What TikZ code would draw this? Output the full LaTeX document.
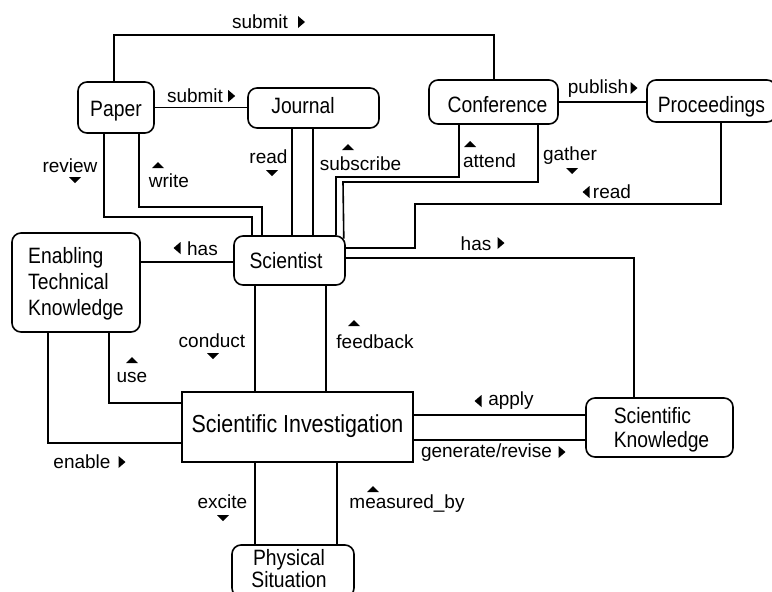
\documentclass[tikz,border=0pt]{standalone}
\usepackage{fontspec}
\setmainfont{Liberation Sans}
\usepackage{graphicx}
\newcommand{\ntext}[3][@{}c@{}]{\scalebox{1}[1.15]{\fontsize{19.3}{#2}\selectfont\begin{tabular}[t]{#1}#3\end{tabular}}}
\tikzset{
  box/.style={draw, line width=1.6pt, rounded corners=9pt, inner sep=0pt},
  sbox/.style={draw, line width=1.6pt, inner sep=0pt},
  lab/.style={font=\fontsize{19}{22}\selectfont, inner sep=0pt, anchor=base},
  conn/.style={line width=1.6pt},
  triU/.pic={\fill (-6,3) -- (6,3) -- (0,-3) -- cycle;},
  triD/.pic={\fill (-6,-3) -- (6,-3) -- (0,3) -- cycle;},
  triR/.pic={\fill (-3.5,-6) -- (-3.5,6) -- (3.5,0) -- cycle;},
  triL/.pic={\fill (3.5,-6) -- (3.5,6) -- (-3.5,0) -- cycle;}
}
\begin{document}
\begin{tikzpicture}[x=1pt,y=-1pt]
\useasboundingbox (0,0) rectangle (772,592);
\clip (0,0) rectangle (772,592);
% nodes
\node[box, minimum width=76pt, minimum height=51pt, text height=17pt, text depth=0pt] (Paper) at (116,107.5) {\ntext{22}{Paper}};
\node[box, minimum width=131pt, minimum height=40pt, text height=10pt, text depth=0pt] (Journal) at (313.5,108) {\ntext[@{}c@{\hspace{21pt}}]{22}{Journal}};
\node[box, minimum width=129pt, minimum height=44pt, text height=20pt, text depth=0pt] (Conf) at (493.5,102) {\ntext[@{\hspace{8pt}}c@{}]{22}{Conference}};
\node[box, minimum width=129pt, minimum height=42pt, text height=22pt, text depth=0pt] (Proc) at (711.5,101) {\ntext{22}{Proceedings}};
\node[box, minimum width=111pt, minimum height=49pt, text height=15pt, text depth=0pt] (Sci) at (289.5,260.5) {\ntext[@{}c@{\hspace{7pt}}]{22}{Scientist}};
\node[box, minimum width=128pt, minimum height=99pt, text height=0pt, text depth=39pt] (ETK) at (76,282.5) {\ntext[@{}l@{}]{23}{Enabling\\Technical\\Knowledge}};
\node[sbox, minimum width=231pt, minimum height=70pt, text height=10pt, text depth=0pt] (SI) at (297.5,427) {\scalebox{1}[1.15]{\fontsize{21.4}{25}\selectfont Scientific Investigation}};
\node[box, minimum width=147pt, minimum height=59pt, text height=0pt, text depth=9pt] (SK) at (659.5,427.5) {\ntext[@{\hspace{4pt}}l@{}]{20.9}{Scientific\\Knowledge}};
\node[box, minimum width=122pt, minimum height=52pt, text height=0pt, text depth=12pt] (PS) at (293,571) {\ntext[@{}c@{\hspace{8pt}}]{19.1}{Physical\\Situation}};
% connectors
\draw[conn] (114,0 |- Paper.north) |- (494,35) -- (494,0 |- Conf.north);
\draw[conn] (Paper.east) -- (Journal.west |- Paper.east);
\draw[conn] (104,0 |- Paper.south) |- (252,217) -- (252,0 |- Sci.north);
\draw[conn] (139,0 |- Paper.south) |- (262,207) -- (262,0 |- Sci.north);
\draw[conn] (292,0 |- Journal.south) -- (292,0 |- Sci.north);
\draw[conn] (313,0 |- Journal.south) -- (313,0 |- Sci.north);
\draw[conn] (459,0 |- Conf.south) |- (336,177) -- (336,0 |- Sci.north);
\draw[conn] (538,0 |- Conf.south) |- (343,182) -- ([shift={(-2,3.5)}]Sci.north east);
\draw[conn] (721,0 |- Proc.south) |- (415,204) |- (Sci.east |- 0,248);
\draw[conn] (Sci.east |- 0,258) -| (634,0 |- SK.north);
\draw[conn] (ETK.east |- 0,262) -- (Sci.west |- 0,262);
\draw[conn] (255,0 |- Sci.south) -- (255,0 |- SI.north);
\draw[conn] (326,0 |- Sci.south) -- (326,0 |- SI.north);
\draw[conn] (109,0 |- ETK.south) |- (SI.west |- 0,403);
\draw[conn] (48,0 |- ETK.south) |- (SI.west |- 0,443);
\draw[conn] (SI.east |- 0,415) -- (SK.west |- 0,415);
\draw[conn] (SI.east |- 0,440) -- (SK.west |- 0,440);
\draw[conn] (255,0 |- SI.south) -- (255,0 |- PS.north);
\draw[conn] (337,0 |- SI.south) -- (337,0 |- PS.north);
\draw[conn] (Conf.east) -- (Proc.west |- Conf.east);
% labels
\node[lab] (lsub1) at (260,28) {submit};
\pic at (301.5,22) {triR};
\node[lab] (lsub2) at (195,102) {submit};
\pic at (231.7,96) {triR};
\node[lab] (lrev) at (70,172) {review};
\pic at (75,180) {triD};
\node[lab] (lwri) at (169,187) {write};
\pic at (158,165) {triU};
\node[lab] (lread1) at (268.5,163) {read};
\pic at (272,173) {triD};
\node[lab] (lsubs) at (360.5,170) {subscribe};
\pic at (348,147) {triU};
\node[lab] (latt) at (489.5,167) {attend};
\pic at (470,144) {triU};
\node[lab] (lgat) at (570,160) {gather};
\pic at (572,171) {triD};
\node[lab] (lread2) at (612,198) {read};
\pic at (586,192) {triL};
\node[lab] (lpub) at (598,93) {publish};
\pic at (634,88) {triR};
\node[lab] (lhas1) at (476,250) {has};
\pic at (501,243) {triR};
\node[lab] (lhas2) at (202.5,255) {has};
\pic at (177,248) {triL};
\node[lab] (lcon) at (212,347) {conduct};
\pic at (213,356) {triD};
\node[lab] (lfee) at (375,348) {feedback};
\pic at (354,323) {triU};
\node[lab] (luse) at (132,382) {use};
\pic at (132,360) {triU};
\node[lab] (lena) at (82,468) {enable};
\pic at (122,462) {triR};
\node[lab] (lapp) at (511,405) {apply};
\pic at (478,401) {triL};
\node[lab] (lgen) at (486.5,457) {generate/revise};
\pic at (562,452) {triR};
\node[lab] (lexc) at (222.5,508) {excite};
\pic at (223,518) {triD};
\node[lab] (lmea) at (407,508) {measured\_by};
\pic at (373,489) {triU};
\end{tikzpicture}
\end{document}
